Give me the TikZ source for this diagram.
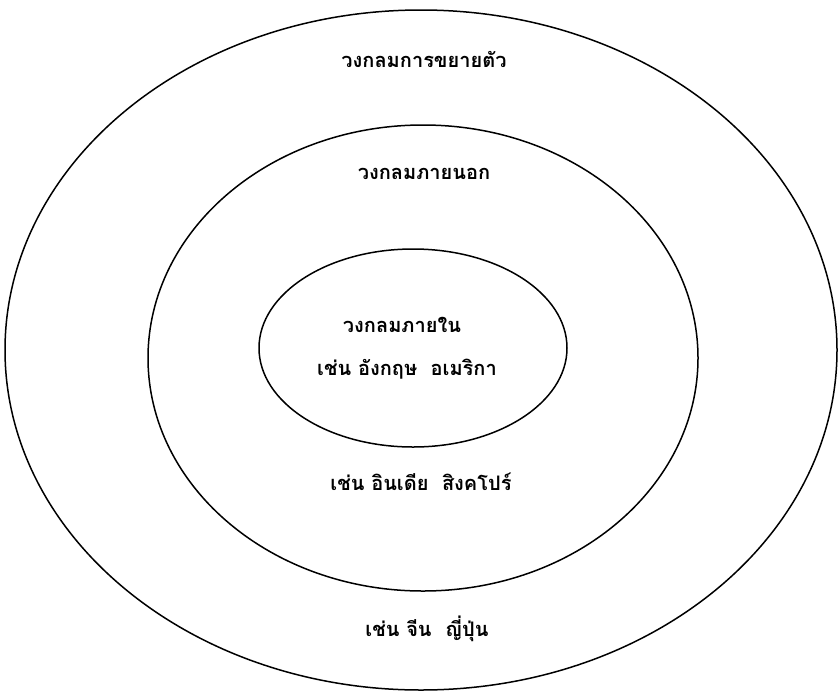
\documentclass[tikz,border=0pt]{standalone}
\usepackage{fontspec}
\newfontfamily\thaifont[Script=Thai]{Loma}
\usetikzlibrary{shapes.geometric}
\tikzset{ring/.style={draw,line width=1.5pt,ellipse,inner sep=0pt},
  lbl/.style={font=\thaifont\bfseries\fontsize{20}{24}\selectfont,inner sep=0pt}}
\begin{document}
\begin{tikzpicture}[x=1pt,y=-1pt]
\useasboundingbox (0,0) rectangle (840,694);
\node[ring,minimum width=832pt,minimum height=680pt] (outer) at (421,350) {};
\node[ring,minimum width=550pt,minimum height=466pt] (middle) at (423,358) {};
\node[ring,minimum width=308pt,minimum height=198pt] (inner) at (413,348) {};
\node[lbl] (expanding) at (424,59) {วงกลมการขยายตัว};
\node[lbl] (outertitle) at (424,174) {วงกลมภายนอก};
\node[lbl] (innertitle) at (402,325) {วงกลมภายใน};
\node[lbl] (innerex) at (407,369) {เช่น อังกฤษ\ \ อเมริกา};
\node[lbl] (outerex) at (421,482) {เช่น อินเดีย\ \ สิงคโปร์};
\node[lbl] (expandex) at (427,629) {เช่น จีน\ \ ญี่ปุ่น};
\end{tikzpicture}
\end{document}
